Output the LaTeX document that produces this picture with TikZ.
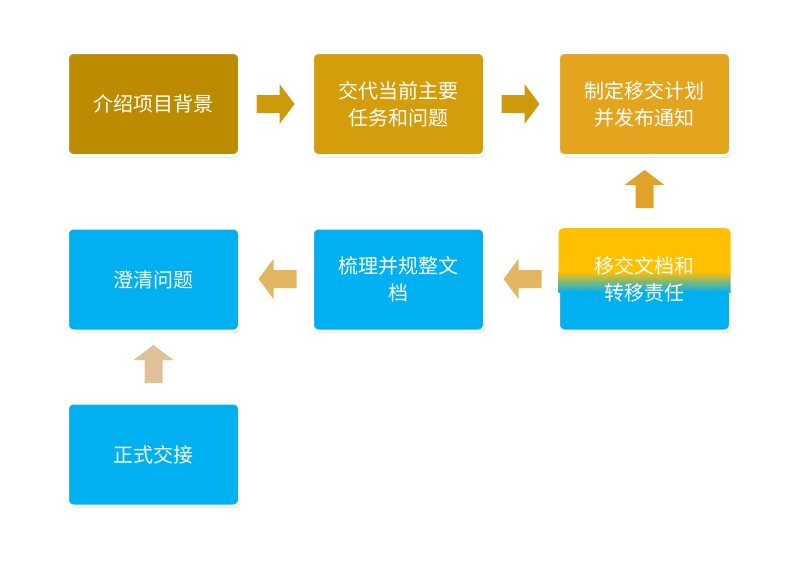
\documentclass[tikz,border=0pt]{standalone}
\usepackage{fontspec}
\setmainfont{Noto Sans CJK SC}
\usetikzlibrary{shadows}
\definecolor{goldA}{HTML}{BD8B00}
\definecolor{goldB}{HTML}{D39D0B}
\definecolor{goldC}{HTML}{E3A41E}
\definecolor{skyC}{HTML}{00B0F0}
\definecolor{yelC}{HTML}{FFC000}
\definecolor{arrA}{HTML}{CD9A0C}
\definecolor{arrB}{HTML}{E0A42C}
\definecolor{arrC}{HTML}{E2B563}
\definecolor{arrD}{HTML}{DEC198}
\tikzset{
  stepbox/.style={draw=white, line width=3pt, rounded corners=6pt, minimum width=172pt,
    minimum height=103pt, text=white, font=\fontsize{20}{27}\selectfont, align=center,
    drop shadow={shadow xshift=1pt, shadow yshift=-2pt, opacity=.3}},
}
% block arrow: \blockarrow{color}{rotation}{center x}{center y}
\newcommand{\blockarrow}[4]{%
  \fill[#1, shift={(#3,#4)}, rotate=#2] (-19,-9) -- (4,-9) -- (4,-20) -- (19,0) -- (4,20) -- (4,9) -- (-19,9) -- cycle;}
\begin{document}
\begin{tikzpicture}[x=1pt, y=-1pt]
\useasboundingbox (0,0) rectangle (802,565);
\node[stepbox, fill=goldA] (intro) at (153.5,104) {介绍项目背景};
\node[stepbox, fill=goldB] (task) at (398.5,104) {交代当前主要\\任务和问题};
\node[stepbox, fill=goldC] (plan) at (644.5,104) {制定移交计划\\并发布通知};
\node[stepbox, text opacity=0, fill=skyC] (hand) at (644.5,279.5) {移交文档和\\转移责任};
\begin{scope}
  \clip[rounded corners=5pt] (hand.south west) ++(1.5,-1.5) rectangle ([shift={(-1.5,1.5)}]hand.north east);
  \fill[yelC] (550,220) rectangle (740,272);
  \shade[top color=yelC, bottom color=skyC] (550,271.5) rectangle (740,292);
\end{scope}
\node[text=white, font=\fontsize{20}{27}\selectfont, align=center] (handtxt) at (hand) {移交文档和\\转移责任};
\node[stepbox, fill=skyC] (sort) at (398.5,279.5) {梳理并规整文\\档};
\node[stepbox, fill=skyC] (clar) at (153.5,279.5) {澄清问题};
\node[stepbox, fill=skyC] (formal) at (153.5,454.5) {正式交接};
\blockarrow{arrA}{0}{275.5}{104}
\blockarrow{arrA}{0}{520.5}{104}
\blockarrow{arrB}{90}{644.5}{189}
\blockarrow{arrC}{180}{522.5}{279}
\blockarrow{arrC}{180}{277.5}{279}
\blockarrow{arrD}{90}{153.5}{364}
\end{tikzpicture}
\end{document}
